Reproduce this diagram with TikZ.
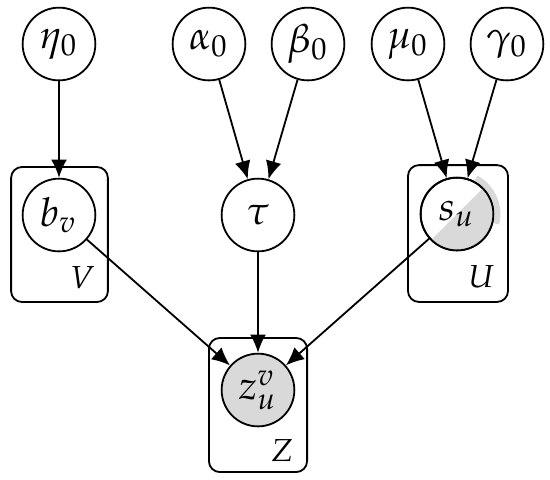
\documentclass[tikz,border=0pt]{standalone}
\usepackage{mathpazo}
\usetikzlibrary{arrows.meta}

\begin{document}
\begin{tikzpicture}[x=0.22pt,y=-0.22pt,>={Latex[length=4pt,width=3.5pt]},
  font=\fontsize{8.8}{10}\selectfont,
  var/.style={circle,draw,minimum size=16pt,inner sep=0pt},
  obs/.style={var,fill=gray!30},
  plate/.style={draw,rounded corners=2.4pt,inner sep=0pt},
  platelab/.style={anchor=south east,inner sep=0pt,font=\fontsize{7}{8}\selectfont}]
  \useasboundingbox (0,0) rectangle (550,479);
  % plates
  \node[plate,minimum width=21.3pt,minimum height=29.7pt] (plateV) at (59.5,234.5) {};
  \node[plate,minimum width=22pt,minimum height=30.1pt] (plateU) at (458,233.5) {};
  \node[plate,minimum width=21.6pt,minimum height=29.5pt] (plateZ) at (258,405) {};
  \node[platelab] (labV) at ([xshift=-2.9pt,yshift=3pt]plateV.south east) {$V$};
  \node[platelab] (labU) at ([xshift=-3pt,yshift=3pt]plateU.south east) {$U$};
  \node[platelab] (labZ) at ([xshift=-3pt,yshift=2.3pt]plateZ.south east) {$Z$};
  % hyperparameters
  \node[var] (eta) at (59,44) {$\eta_0$};
  \node[var] (alpha) at (209,44) {$\alpha_0$};
  \node[var] (beta) at (308,44) {$\beta_0$};
  \node[var] (mu) at (408,44) {$\mu_0$};
  \node[var] (gamma) at (507,44) {$\gamma_0$};
  % latent variables
  \node[var] (b) at (59,215) {$b_v$};
  \node[var] (tau) at (258,215) {$\tau$};
  \node[var] (s) at (457,214) {};
  \fill[gray!30] (s.center) ++(45:8pt) arc[start angle=45,end angle=-135,radius=8pt] -- cycle;
  \draw[gray!30,line width=1.3pt] (s.center) ++(62:8.9pt) arc[start angle=62,end angle=-14,radius=8.9pt];
  \node[var] (s) at (457,214) {$s_u$};
  \node[obs] (z) at (258,390) {$z_u^v$};
  % edges
  \draw[->] (eta) -- (b);
  \draw[->] (alpha) -- (tau);
  \draw[->] (beta) -- (tau);
  \draw[->] (mu) -- (s);
  \draw[->] (gamma) -- (s);
  \draw[->] (b) -- (z);
  \draw[->] (tau) -- (z);
  \draw[->] (s) -- (z);
\end{tikzpicture}
\end{document}
